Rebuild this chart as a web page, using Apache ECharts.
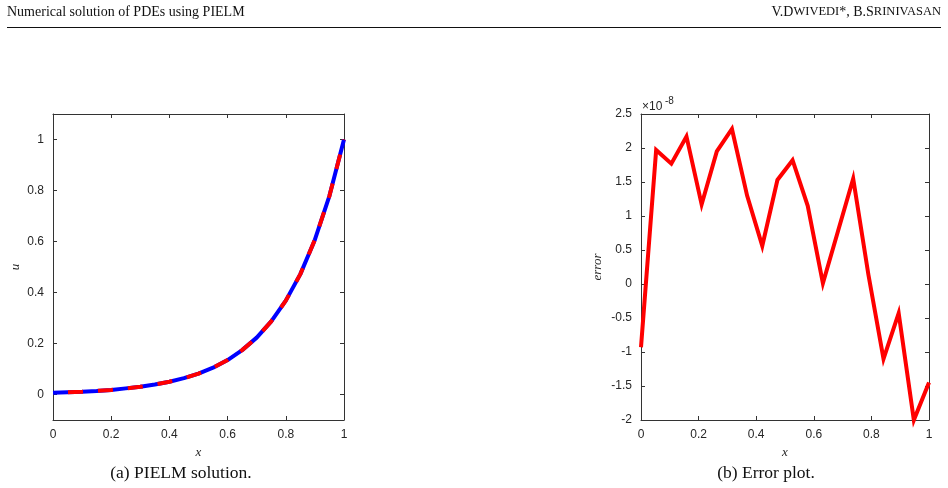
<!DOCTYPE html>
<html>
<head>
<meta charset="utf-8">
<script src="https://cdn.jsdelivr.net/npm/echarts@6/dist/echarts.min.js"></script>
<style>
  html, body { margin: 0; padding: 0; background: #fff; }
  #chart { width: 948px; height: 488px; }
</style>
</head>
<body>
<div id="chart"></div>
<script>
// (a) PIELM solution
const solX = [0, 0.05, 0.1, 0.15, 0.2, 0.25, 0.3, 0.35, 0.4, 0.45, 0.5,
              0.55, 0.6, 0.65, 0.7, 0.75, 0.8, 0.85, 0.9, 0.95, 1];
const solU = [0.007, 0.009, 0.011, 0.014, 0.018, 0.024, 0.030, 0.039, 0.050, 0.064, 0.082,
              0.105, 0.135, 0.174, 0.223, 0.287, 0.368, 0.472, 0.607, 0.779, 1.0];
const solTicksY = [0, 0.2, 0.4, 0.6, 0.8, 1];

// (b) Error plot, values in units of 1e-8
const errX = [0, 0.0526, 0.1053, 0.1579, 0.2105, 0.2632, 0.3158, 0.3684, 0.4211, 0.4737,
              0.5263, 0.5789, 0.6316, 0.6842, 0.7368, 0.7895, 0.8421, 0.8947, 0.9474, 1];
const errY = [-0.93, 1.97, 1.77, 2.17, 1.17, 1.95, 2.28, 1.30, 0.56, 1.53,
              1.82, 1.15, 0.01, 0.78, 1.55, 0.14, -1.10, -0.43, -2.0, -1.45];

const axisColor = '#333';
const labelFont = { color: '#262626', fontSize: 12, fontFamily: 'Liberation Sans' };
const nameFont = { fontFamily: 'Liberation Serif', fontStyle: 'italic', fontSize: 13, color: '#262626' };

function zip(xs, ys) {
    return xs.map((x, i) => [x, ys[i]]);
}

// box axes in MATLAB style: ticks inward on all four sides
function boxX(gridIndex, pos, showLabel) {
    return {
        type: 'value', gridIndex: gridIndex, position: pos,
        min: 0, max: 1, interval: 0.2,
        axisLine: { show: true, onZero: false, lineStyle: { color: axisColor, width: 1 } },
        axisTick: { show: true, inside: true, length: 4, lineStyle: { color: axisColor } },
        axisLabel: Object.assign({ show: showLabel, margin: 9 }, labelFont),
        splitLine: { show: false }
    };
}

const chart = echarts.init(document.getElementById('chart'), null, { renderer: 'canvas' });

chart.setOption({
    animation: false,
    backgroundColor: '#fff',
    grid: [
        { left: 53, top: 114, width: 291, height: 306 },
        { left: 641, top: 114, width: 288, height: 306 }
    ],
    xAxis: [
        Object.assign(boxX(0, 'bottom', true), {
            name: 'x', nameLocation: 'middle', nameGap: 26, nameTextStyle: nameFont
        }),
        boxX(0, 'top', false),
        Object.assign(boxX(1, 'bottom', true), {
            name: 'x', nameLocation: 'middle', nameGap: 26, nameTextStyle: nameFont
        }),
        boxX(1, 'top', false)
    ],
    yAxis: [
        {
            type: 'value', gridIndex: 0, position: 'left', min: -0.1, max: 1.1,
            name: 'u', nameLocation: 'middle', nameGap: 31, nameTextStyle: nameFont,
            axisLine: { show: true, onZero: false, lineStyle: { color: axisColor } },
            axisTick: { show: true, inside: true, length: 4, customValues: solTicksY, lineStyle: { color: axisColor } },
            axisLabel: Object.assign({ margin: 9, customValues: solTicksY }, labelFont),
            splitLine: { show: false }
        },
        {
            type: 'value', gridIndex: 0, position: 'right', min: -0.1, max: 1.1,
            axisLine: { show: true, onZero: false, lineStyle: { color: axisColor } },
            axisTick: { show: true, inside: true, length: 4, customValues: solTicksY, lineStyle: { color: axisColor } },
            axisLabel: { show: false },
            splitLine: { show: false }
        },
        {
            type: 'value', gridIndex: 1, position: 'left', min: -2, max: 2.5, interval: 0.5,
            name: 'error', nameLocation: 'middle', nameGap: 37, nameTextStyle: nameFont,
            axisLine: { show: true, onZero: false, lineStyle: { color: axisColor } },
            axisTick: { show: true, inside: true, length: 4, lineStyle: { color: axisColor } },
            axisLabel: Object.assign({ margin: 9 }, labelFont),
            splitLine: { show: false }
        },
        {
            type: 'value', gridIndex: 1, position: 'right', min: -2, max: 2.5, interval: 0.5,
            axisLine: { show: true, onZero: false, lineStyle: { color: axisColor } },
            axisTick: { show: true, inside: true, length: 4, lineStyle: { color: axisColor } },
            axisLabel: { show: false },
            splitLine: { show: false }
        }
    ],
    series: [
        {
            // exact solution, solid blue underneath
            type: 'line', xAxisIndex: 0, yAxisIndex: 0,
            data: zip(solX, solU), symbol: 'none', silent: true,
            lineStyle: { color: '#0000ff', width: 4 }
        },
        {
            // PIELM, red dashes on top
            type: 'line', xAxisIndex: 0, yAxisIndex: 0,
            data: zip(solX, solU), symbol: 'none', silent: true,
            lineStyle: { color: '#ff0000', width: 4, type: [15, 15], dashOffset: 15 }
        },
        {
            type: 'line', xAxisIndex: 2, yAxisIndex: 2,
            data: zip(errX, errY), symbol: 'none', silent: true, clip: false,
            lineStyle: { color: '#ff0000', width: 4, join: 'miter' }
        }
    ],
    graphic: [
        {
            type: 'text', left: 7, top: 5,
            style: { text: 'Numerical solution of PDEs using PIELM', font: '14px "Liberation Serif"', fill: '#111' }
        },
        {
            type: 'text', right: 7, top: 5,
            style: {
                text: '{n|V.D}{s|WIVEDI}{n|*, B.S}{s|RINIVASAN}',
                fill: '#111',
                rich: {
                    n: { fontFamily: 'Liberation Serif', fontSize: 14, fill: '#111' },
                    s: { fontFamily: 'Liberation Serif', fontSize: 12.5, fill: '#111' }
                }
            }
        },
        {
            type: 'line', shape: { x1: 7, y1: 27.5, x2: 941, y2: 27.5 },
            style: { stroke: '#111', lineWidth: 1 }
        },
        {
            type: 'text', x: 642, y: 107,
            style: { text: '×10', font: '12px "Liberation Sans"', fill: '#262626', verticalAlign: 'middle' }
        },
        {
            type: 'text', x: 665, y: 101,
            style: { text: '-8', font: '10px "Liberation Sans"', fill: '#262626', verticalAlign: 'middle' }
        },
        {
            type: 'text', x: 181, y: 473,
            style: { text: '(a) PIELM solution.', font: '17.5px "Liberation Serif"', fill: '#111', align: 'center', verticalAlign: 'middle' }
        },
        {
            type: 'text', x: 766, y: 473,
            style: { text: '(b) Error plot.', font: '17.5px "Liberation Serif"', fill: '#111', align: 'center', verticalAlign: 'middle' }
        }
    ]
});
</script>
</body>
</html>
